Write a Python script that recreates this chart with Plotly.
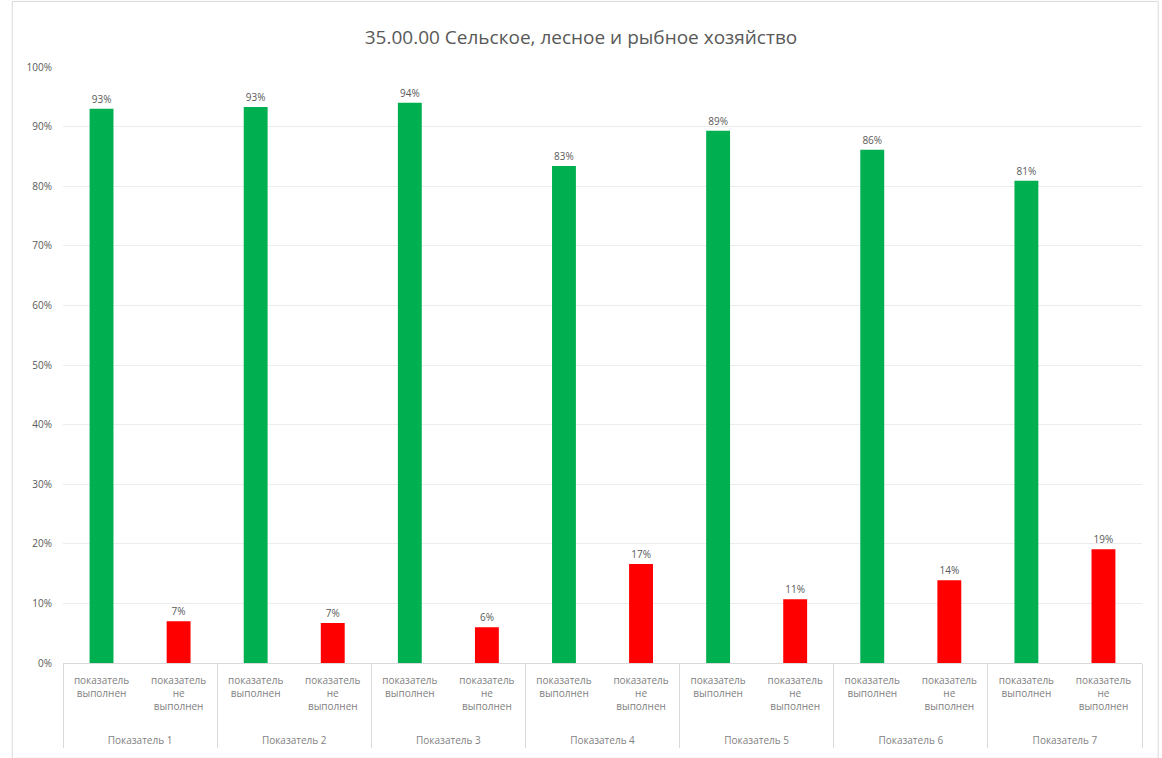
import plotly.graph_objects as go

groups = ["Показатель 1", "Показатель 2", "Показатель 3", "Показатель 4",
          "Показатель 5", "Показатель 6", "Показатель 7"]
status_labels = ["показатель<br>выполнен", "показатель<br>не<br>выполнен"]
done = [93.0, 93.3, 94.0, 83.4, 89.3, 86.1, 80.9]
not_done = [7.0, 6.7, 6.0, 16.6, 10.7, 13.9, 19.1]
colors = ["#00B050", "#FF0000"]
y_ticks = list(range(0, 101, 10))
y_tick_text = [f"{t}%" for t in y_ticks]

x_top, x_sub, vals, cols = [], [], [], []
for g, d, n in zip(groups, done, not_done):
    for lab, v, c in zip(status_labels, (d, n), colors):
        x_top.append(g)
        x_sub.append(lab + "<br>&nbsp;<br>&nbsp;")
        vals.append(v)
        cols.append(c)

fig = go.Figure(go.Bar(
    x=[x_top, x_sub], y=vals, marker_color=cols, marker_line_width=0,
    texttemplate="%{y:.0f}%", textposition="outside",
    textfont=dict(size=10, color="#595959"), cliponaxis=False,
))

fig.update_layout(
    width=1162, height=758,
    margin=dict(l=63, r=20, t=67, b=95),
    paper_bgcolor="white", plot_bgcolor="white",
    font=dict(family="Open Sans, Liberation Sans, sans-serif", color="#595959"),
    title=dict(text="35.00.00 Сельское, лесное и рыбное хозяйство",
               x=0.5, xanchor="center", y=1 - 37 / 758, yanchor="middle",
               font=dict(size=19, color="#595959")),
    bargap=0.69, showlegend=False,
)
fig.update_yaxes(range=[0, 100], tickvals=y_ticks, ticktext=y_tick_text,
                 tickfont=dict(size=10, color="#595959"), ticklabelstandoff=10,
                 gridcolor="#ececec", zeroline=False, showline=False)
fig.update_xaxes(tickfont=dict(size=10, color="#7f7f7f"), ticklabelstandoff=8,
                 showline=True, linecolor="#d9d9d9",
                 showdividers=True, dividercolor="#d9d9d9", dividerwidth=1)
fig.add_shape(type="rect", xref="paper", yref="paper", x0=-0.047, x1=1.015,
              y0=-0.16, y1=1.11, line=dict(color="#d9d9d9", width=1))
fig.write_html("out.html", config={"displayModeBar": False},
               post_script="document.body.style.margin='0';")
